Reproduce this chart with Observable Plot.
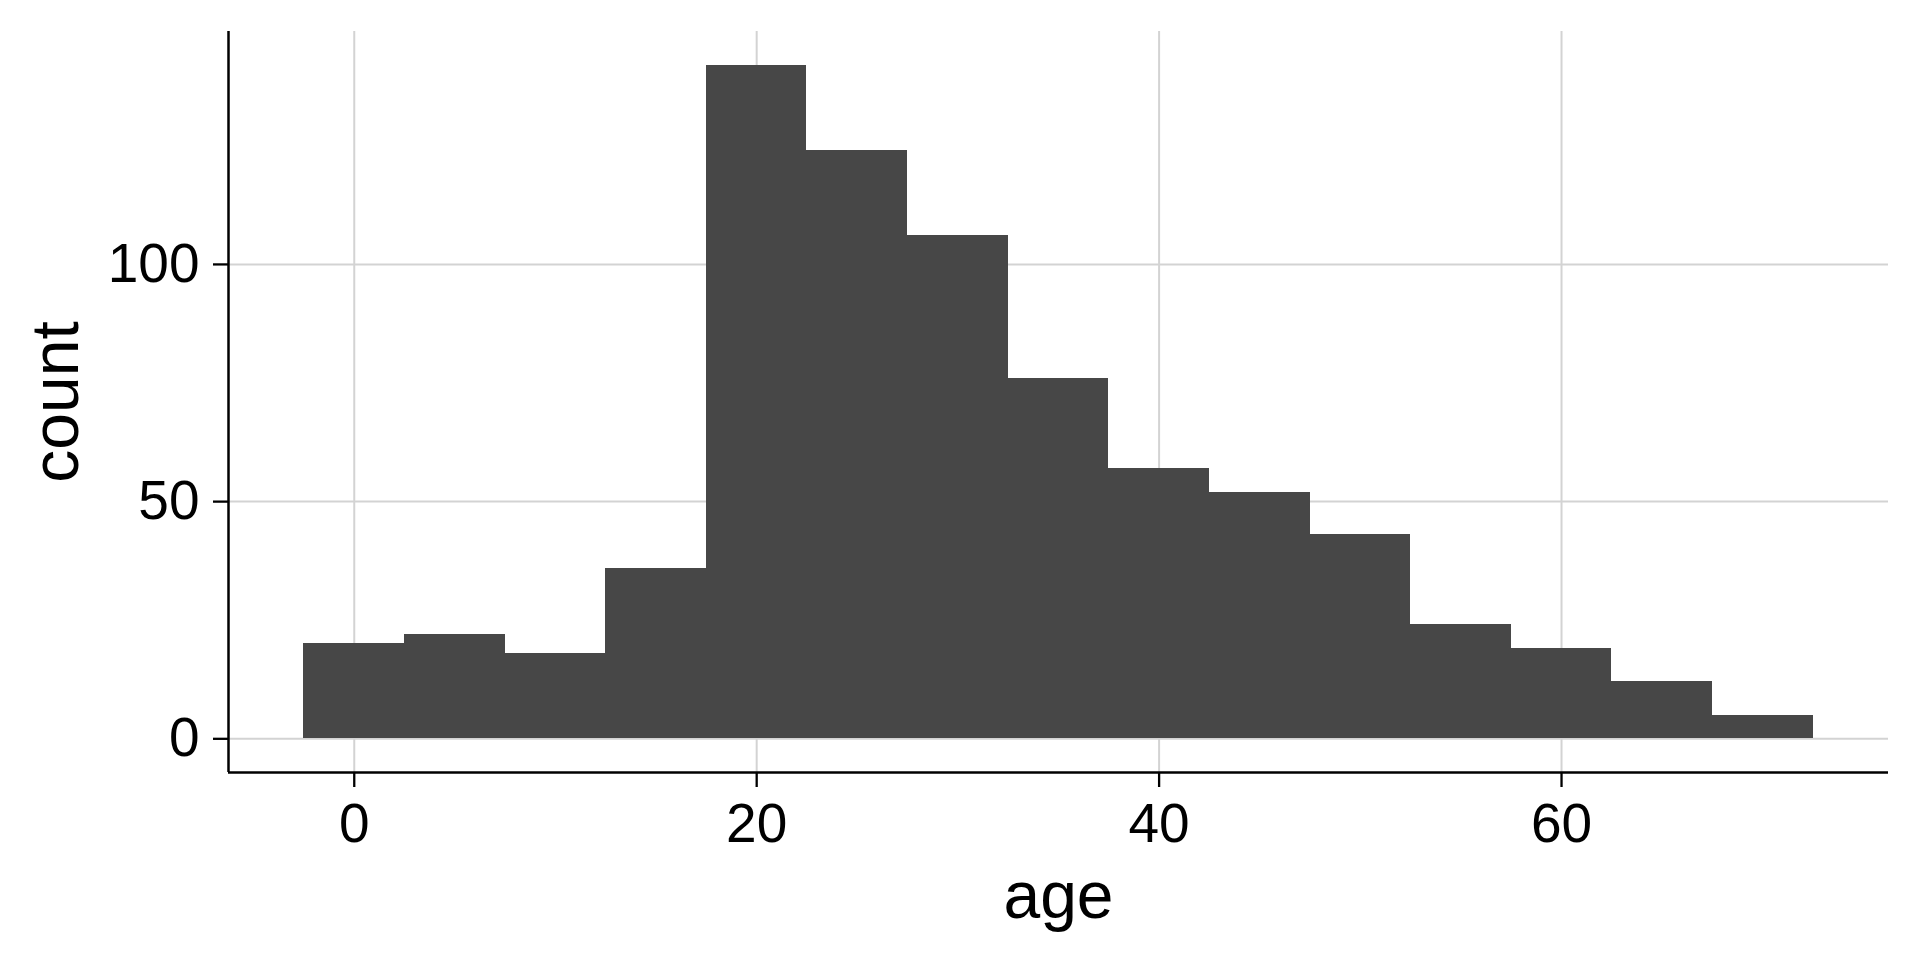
<!DOCTYPE html>
<html>
<head>
<meta charset="utf-8">
<script src="https://cdn.jsdelivr.net/npm/d3@7"></script>
<script src="https://cdn.jsdelivr.net/npm/@observablehq/plot@0.6"></script>
<style>
  html, body { margin: 0; padding: 0; background: #ffffff; }
  #chart svg { display: block; }
</style>
</head>
<body>
<div id="chart"></div>
<script>
// Data (bin centres, width 5)
const ages = [0, 5, 10, 15, 20, 25, 30, 35, 40, 45, 50, 55, 60, 65, 70];
const counts = [20, 22, 18, 36, 142, 124, 106, 76, 57, 52, 43, 24, 19, 12, 5];
const binWidth = 5;
const xTicks = [0, 20, 40, 60];
const yTicks = [0, 50, 100];
const xLabel = "age";
const yLabel = "count";

// ggplot-style 5% expansion of the data ranges
const xMin = ages[0] - binWidth / 2, xMax = ages[ages.length - 1] + binWidth / 2;
const xPad = (xMax - xMin) * 0.05;
const xDomain = [xMin - xPad, xMax + xPad];
const yMaxVal = d3.max(counts);
const yDomain = [-yMaxVal * 0.05, yMaxVal * 1.05];

const bins = ages.map((a, i) => ({x1: a - binWidth / 2, x2: a + binWidth / 2, count: counts[i]}));

const gridStyle = {stroke: "#d3d3d3", strokeOpacity: 1, strokeWidth: 2};
const axisStyle = {tickSize: 15, tickPadding: 14, fontSize: 55, strokeWidth: 2.3, label: null};

const chart = Plot.plot({
  width: 1920,
  height: 960,
  marginLeft: 228,
  marginRight: 32,
  marginTop: 31,
  marginBottom: 188,
  x: {domain: xDomain},
  y: {domain: yDomain},
  style: {fontFamily: "'Liberation Sans', Arial, sans-serif", background: "#ffffff", color: "#000000"},
  marks: [
    Plot.gridX(xTicks, gridStyle),
    Plot.gridY(yTicks, gridStyle),
    Plot.rect(bins, {x1: "x1", x2: "x2", y1: 0, y2: "count", fill: "#474747", shapeRendering: "crispEdges"}),
    Plot.ruleX([xDomain[0]], {stroke: "#000000", strokeWidth: 2.5}),
    Plot.ruleY([yDomain[0]], {stroke: "#000000", strokeWidth: 2.5}),
    Plot.axisX(xTicks, {...axisStyle, tickPadding: 15}),
    Plot.axisY(yTicks, axisStyle),
    Plot.text([xLabel], {text: d => d, frameAnchor: "bottom", lineAnchor: "bottom", textAnchor: "middle", dy: 145, fontSize: 66, fill: "#000000"}),
    Plot.text([yLabel], {text: d => d, frameAnchor: "left", lineAnchor: "bottom", textAnchor: "middle", rotate: -90, dx: -151, fontSize: 66, fill: "#000000"})
  ]
});

document.getElementById("chart").appendChild(chart);
</script>
</body>
</html>
